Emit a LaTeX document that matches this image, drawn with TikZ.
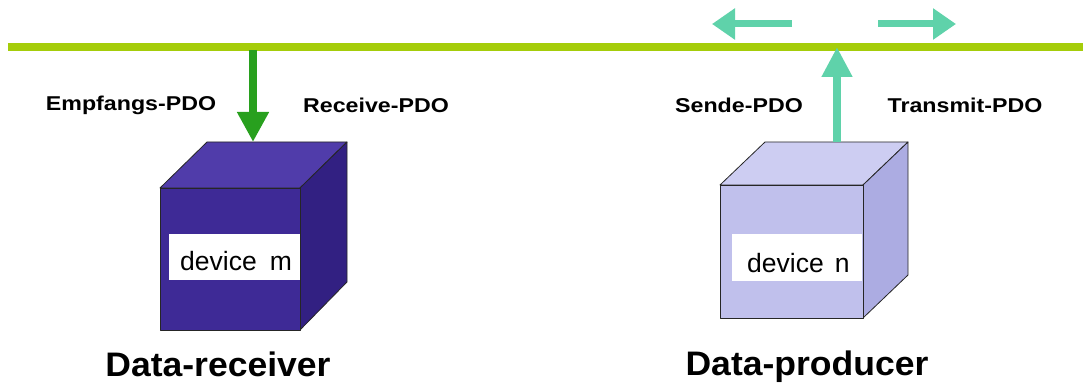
\documentclass[tikz,border=0pt]{standalone}
\usepackage{fontspec}
\setmainfont{Liberation Sans}
\usetikzlibrary{arrows.meta}
\definecolor{bus}{RGB}{165,205,10}
\definecolor{rxgreen}{RGB}{40,160,30}
\definecolor{txteal}{RGB}{95,210,170}
\definecolor{darkfront}{RGB}{62,42,150}
\definecolor{darktop}{RGB}{80,60,170}
\definecolor{darkside}{RGB}{50,32,130}
\definecolor{lightfront}{RGB}{192,192,236}
\definecolor{lighttop}{RGB}{205,205,242}
\definecolor{lightside}{RGB}{172,172,226}
\tikzset{
  pdolabel/.style={font=\bfseries\fontsize{20}{22}\selectfont, inner sep=0pt},
  rolelabel/.style={font=\bfseries\fontsize{34}{38}\selectfont, inner sep=0pt},
  devlabel/.style={fill=white, font=\fontsize{26.5}{28}\selectfont, inner sep=0pt,
    anchor=north west, align=left},
  cubeedge/.style={draw=black!85, line width=0.8pt, line join=round},
  busline/.style={bus, line width=8pt},
  rxarrow/.style={rxgreen, line width=8pt, -{Triangle[length=30pt,width=30pt]}},
  txarrow/.style={txteal, line width=8pt, -{Triangle[length=30pt,width=29pt]}},
  sidearrow/.style={txteal, line width=7pt, -{Triangle[length=23pt,width=30pt]}},
}
\begin{document}
\begin{tikzpicture}[x=1pt,y=-1pt]
\useasboundingbox (0,0) rectangle (1083,390);
% bus
\coordinate (busL) at (8,47);
\coordinate (busR) at (1083,47);
\draw[busline] (busL) -- (busR);
% left cube (data receiver)
\filldraw[cubeedge, fill=darktop] (160,188) -- (207,142) -- (347,142) -- (300,188) -- cycle;
\filldraw[cubeedge, fill=darkside] (300,188) -- (347,142) -- (347,282) -- (300,330) -- cycle;
\filldraw[cubeedge, fill=darkfront] (160,188) rectangle (300,330);
\node[devlabel, text width=131pt, text height=36pt, text depth=10pt] (devm) at (169,234)
  {\hspace*{11pt}device\hspace{13pt}m};
\coordinate (topm) at (253,142);
\coordinate (busm) at (253,50);
% right cube (data producer)
\filldraw[cubeedge, fill=lighttop] (720,185) -- (765,142) -- (908,142) -- (863,185) -- cycle;
\filldraw[cubeedge, fill=lightside] (863,185) -- (908,142) -- (908,275) -- (863,318) -- cycle;
\filldraw[cubeedge, fill=lightfront] (720,185) rectangle (863,318);
\node[devlabel, text width=130pt, text height=38pt, text depth=9pt] (devn) at (732,234)
  {\hspace*{15pt}device\hspace{11pt}n};
\coordinate (topn) at (837,142);
\coordinate (busn) at (837,47);
% arrows
\draw[rxarrow] (busm) -- (topm);
\draw[txarrow] (topn) -- (busn);
\coordinate (lt) at (792,24);
\coordinate (lh) at (712,24);
\coordinate (rt) at (878,24);
\coordinate (rh) at (956,24);
\draw[sidearrow] (lt) -- (lh);
\draw[sidearrow] (rt) -- (rh);
% labels
\node[pdolabel] (emp) at (131,105) {\scalebox{1.16}[1]{Empfangs-PDO}};
\node[pdolabel] (rec) at (376,105) {\scalebox{1.16}[1]{Receive-PDO}};
\node[pdolabel] (sen) at (739,105) {\scalebox{1.16}[1]{Sende-PDO}};
\node[pdolabel] (tra) at (965,105) {\scalebox{1.16}[1]{Transmit-PDO}};
\node[rolelabel] (rcv) at (218,364) {\scalebox{1.045}[1]{Data-receiver}};
\node[rolelabel] (prd) at (807,367) {\scalebox{1.045}[1]{Data-producer}};
\end{tikzpicture}
\end{document}
